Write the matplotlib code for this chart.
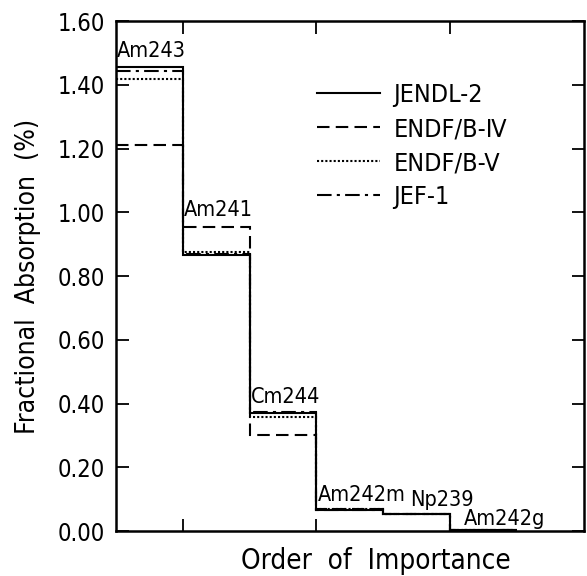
import matplotlib.pyplot as plt
from matplotlib.lines import Line2D

# nuclides in order of importance, one bin each
nuclides = ['Am243', 'Am241', 'Cm244', 'Am242m', 'Np239', 'Am242g']
edges = [0, 1, 2, 3, 4, 5, 6]

# fractional absorption (%) per library
jendl2 = [1.455, 0.865, 0.370, 0.065, 0.055, 0.004]
endfb4 = [1.210, 0.955, 0.300, 0.070, 0.055, 0.004]
endfb5 = [1.417, 0.875, 0.358, 0.068, 0.055, 0.004]
jef1 = [1.442, 0.870, 0.374, 0.066, 0.055, 0.004]

# where the nuclide names sit
label_x = [0.02, 1.02, 2.02, 3.02, 4.4, 5.2]
label_y = [1.475, 0.975, 0.39, 0.082, 0.066, 0.008]

plt.rcParams['font.family'] = ['DejaVu Sans']
plt.rcParams['font.stretch'] = 'condensed'

fig = plt.figure(figsize=(5.87, 5.76), dpi=100)
ax = fig.add_axes([0.1976, 0.078, 0.797, 0.8855])

styles = [
    (jendl2, 'JENDL-2', '-'),
    (endfb4, 'ENDF/B-Ⅳ', (0, (6, 3))),
    (endfb5, 'ENDF/B-V', (0, (1, 1))),
    (jef1, 'JEF-1', (0, (7, 2.5, 1.5, 2.5))),
]
handles = []
for vals, name, ls in styles:
    ax.stairs(vals, edges, baseline=None, color='black', linewidth=1.5, linestyle=ls)
    handles.append(Line2D([], [], color='black', linewidth=1.5, linestyle=ls, label=name))

for name, x, y in zip(nuclides, label_x, label_y):
    ax.text(x, y, name, fontsize=15.5, ha='left', va='bottom')

ax.set_xlim(0, 7)
ax.set_ylim(0, 1.6)
ax.set_yticks([0, 0.2, 0.4, 0.6, 0.8, 1.0, 1.2, 1.4, 1.6])
ax.set_yticklabels(['%.2f' % v for v in ax.get_yticks()])
ax.set_xticks([1, 3, 5])
ax.set_xticklabels([])
ax.tick_params(direction='in', length=9, width=1.3, top=True, right=True,
               labelsize=17, pad=8)
for s in ax.spines.values():
    s.set_linewidth(1.8)

ax.set_ylabel('Fractional  Absorption  (%)', fontsize=19, labelpad=12)
ax.set_xlabel('Order  of  Importance', fontsize=20, labelpad=6)
ax.xaxis.set_label_coords(0.555, -0.032, transform=ax.transAxes)
ax.xaxis.label.set_va('top')

ax.legend(handles=handles, loc='upper left', bbox_to_anchor=(0.43, 0.878),
          frameon=False, fontsize=18, handlelength=2.5, handletextpad=0.55,
          labelspacing=0.4, borderpad=0, borderaxespad=0)

fig.savefig('out.png', dpi=100)
